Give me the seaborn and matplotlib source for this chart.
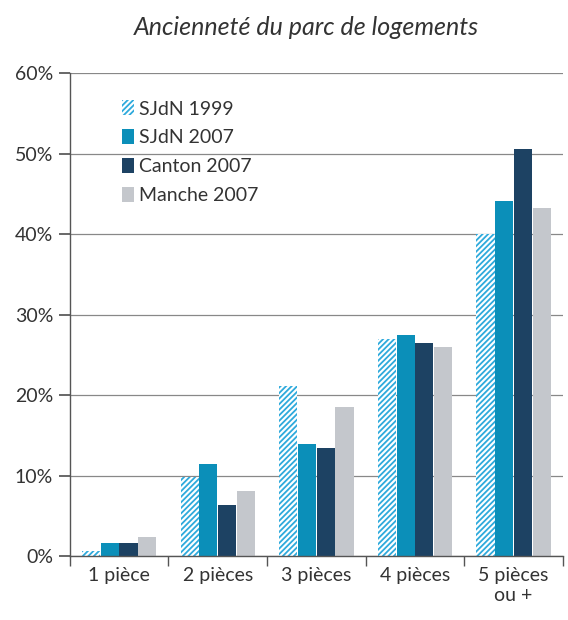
import matplotlib
matplotlib.use("Agg")
import matplotlib.pyplot as plt
import seaborn as sns
import pandas as pd
import numpy as np
from matplotlib.patches import Patch

categories = ["1 pièce", "2 pièces", "3 pièces", "4 pièces", "5 pièces\nou +"]
series = ["SJdN 1999", "SJdN 2007", "Canton 2007", "Manche 2007"]
sjdn_1999 = [0.6, 9.8, 21.1, 27.0, 40.0]
sjdn_2007 = [1.6, 11.4, 13.9, 27.5, 44.1]
canton_2007 = [1.6, 6.3, 13.4, 26.5, 50.6]
manche_2007 = [2.4, 8.1, 18.5, 26.0, 43.2]
yticks = [0, 10, 20, 30, 40, 50, 60]

colors = ["#ffffff", "#0b8fb9", "#1d4263", "#c4c7cc"]
hatch_color = "#2eaadc"

rows = []
for s, vals in zip(series, [sjdn_1999, sjdn_2007, canton_2007, manche_2007]):
    for c, v in zip(categories, vals):
        rows.append({"cat": c, "series": s, "val": v})
df = pd.DataFrame(rows)

sns.set_theme(style="white")
plt.rcParams['font.family'] = ['Lato', 'DejaVu Sans']
plt.rcParams['hatch.linewidth'] = 1.3

fig = plt.figure(figsize=(5.68, 6.2), dpi=100)
ax = fig.add_axes([0.123, 0.103, 0.868, 0.779])

sns.barplot(data=df, x="cat", y="val", hue="series", hue_order=series,
            palette=colors, width=0.76, gap=0.03, ax=ax, legend=False,
            saturation=1)

n = len(categories)
for i, patch in enumerate(ax.patches[:n]):
    patch.set_hatch("//////")
    patch.set_edgecolor(hatch_color)
    patch.set_linewidth(0)
for patch in ax.patches[n:]:
    patch.set_linewidth(0)

ax.set_ylim(0, 60)
ax.set_yticks(yticks)
ax.set_yticklabels([f"{t}%" for t in yticks], fontsize=14, color="#333333")
ax.yaxis.grid(True, color="#888888", linewidth=0.9)
ax.set_axisbelow(True)
ax.set_xlim(-0.5, n - 0.5)
ax.set_xlabel("")
ax.set_ylabel("")
ax.tick_params(axis='x', length=0, labelsize=14, labelcolor="#333333", pad=8)
ax.tick_params(axis='y', left=True, length=8, color="#555555", pad=4)
for sp in ["top", "right"]:
    ax.spines[sp].set_visible(False)
for sp in ["left", "bottom"]:
    ax.spines[sp].set_color("#555555")
    ax.spines[sp].set_linewidth(1.0)

ax.set_xticks(np.arange(-0.5, n + 0.5, 1), minor=True)
ax.tick_params(axis='x', which='minor', bottom=True, length=7, color="#555555")

handles = [
    Patch(facecolor="white", edgecolor=hatch_color, hatch="//////", linewidth=0, label=series[0]),
    Patch(facecolor=colors[1], linewidth=0, label=series[1]),
    Patch(facecolor=colors[2], linewidth=0, label=series[2]),
    Patch(facecolor=colors[3], linewidth=0, label=series[3]),
]
leg = ax.legend(handles=handles, loc="upper left", bbox_to_anchor=(0.07, 0.98),
                frameon=False, fontsize=14, handlelength=0.6, handleheight=0.8,
                handletextpad=0.3, labelspacing=0.6)
for t in leg.get_texts():
    t.set_color("#333333")

fig.text(0.54, 0.955, "Ancienneté du parc de logements", ha="center", va="center",
         fontsize=18, style="italic", color="#333333")

fig.savefig("out.png", dpi=100, facecolor="white")
